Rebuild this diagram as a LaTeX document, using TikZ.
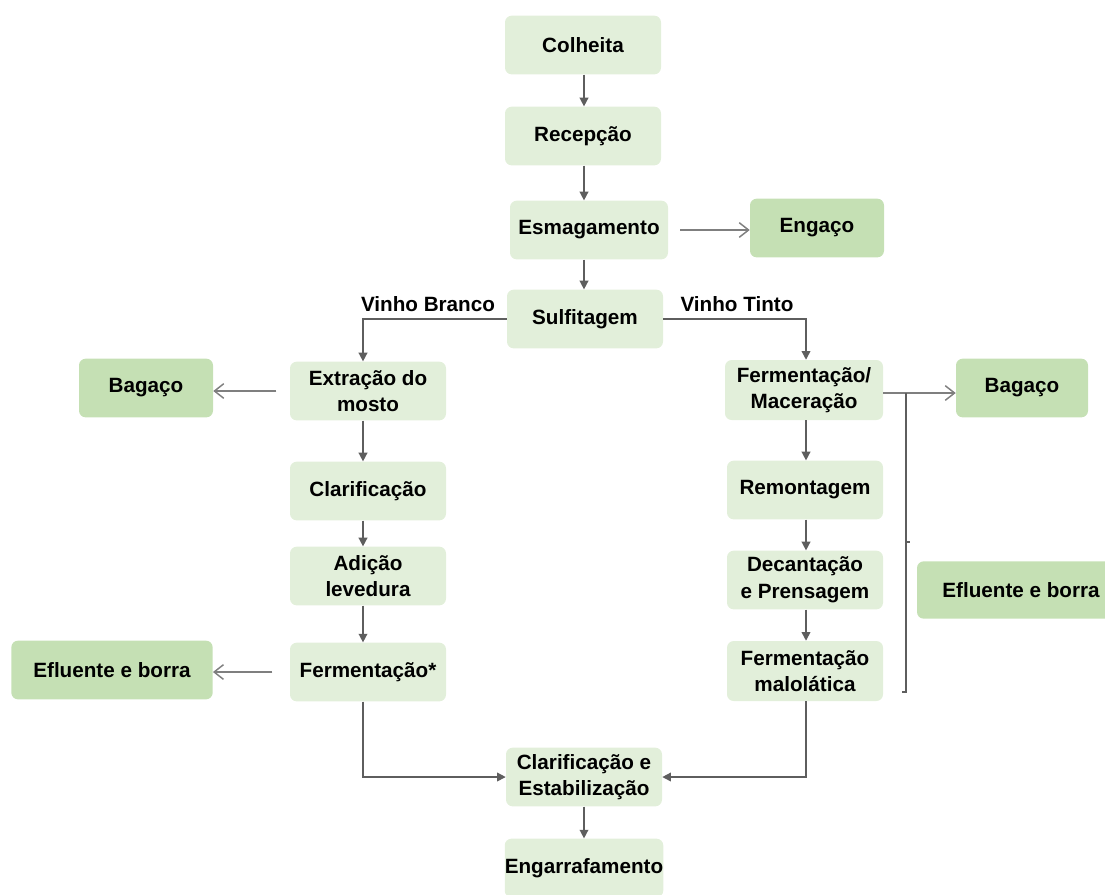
\documentclass[tikz,border=0pt]{standalone}
\usepackage{fontspec}
\setmainfont{Liberation Sans}
\usetikzlibrary{arrows.meta}
\definecolor{boxlight}{HTML}{E2EFDA}
\definecolor{boxdark}{HTML}{C5E0B4}
\definecolor{linegray}{HTML}{5E5E5E}
\definecolor{wastegray}{HTML}{7F7F7F}
\begin{document}
\begin{tikzpicture}[x=0.75pt,y=-0.75pt,
  stepbox/.style={fill=boxlight, rounded corners=5pt, inner sep=0pt,
    minimum width=117pt, minimum height=44pt, align=center,
    font=\bfseries\fontsize{15.5}{20}\selectfont},
  wastebox/.style={stepbox, fill=boxdark},
  flow/.style={draw=linegray, line width=1.1pt, -{Triangle[length=6.5pt,width=6.5pt]}},
  waste/.style={draw=wastegray, line width=1.1pt, -{Straight Barb[length=7pt,width=11pt]}},
  branch/.style={font=\bfseries\fontsize{15.5}{18}\selectfont, inner sep=0pt}]
\useasboundingbox (0,0) rectangle (1105,894);

% main line
\node[stepbox] (colheita) at (583,45)  {Colheita};
\node[stepbox] (recepcao) at (583,136) {Recepção};
\node[stepbox, minimum width=118.5pt] (esmag) at (589,230) {Esmagamento};
\node[wastebox, minimum width=100.5pt] (engaco) at (817,228) {Engaço};
\node[stepbox] (sulfit) at (585,319) {Sulfitagem};

% white wine
\node[stepbox] (extracao) at (368,391) {Extração do\\mosto};
\node[wastebox, minimum width=100.5pt] (bagacoL) at (146,388) {Bagaço};
\node[stepbox] (clarif) at (368,491) {Clarificação};
\node[stepbox] (adicao) at (368,576) {Adição\\levedura};
\node[stepbox] (ferm) at (368,672) {Fermentação*};
\node[wastebox, minimum width=151pt] (efluL) at (112,670) {Efluente e borra};

% red wine
\node[stepbox, minimum width=118.5pt, minimum height=45pt] (fermmac) at (804,390) {Fermentação/\\Maceração};
\node[wastebox, minimum width=99pt] (bagacoR) at (1022,388) {Bagaço};
\node[stepbox] (remont) at (805,490) {Remontagem};
\node[stepbox] (decant) at (805,580) {Decantação\\e Prensagem};
\node[stepbox, minimum height=45pt] (malo) at (805,671) {Fermentação\\malolática};
\node[wastebox, minimum width=156pt, minimum height=43pt] (efluR) at (1021,590) {Efluente e borra};

% final steps
\node[stepbox] (clarest) at (584,777) {Clarificação e\\Estabilização};
\node[stepbox] (engarraf) at (584,868) {Engarrafamento};

% branch labels
\node[branch] (lblbranco) at (428,304) {Vinho Branco};
\node[branch] (lbltinto) at (737,304) {Vinho Tinto};

% column guides
\coordinate (cx) at (584,0);
\coordinate (lx) at (363,0);
\coordinate (rx) at (806,0);
\coordinate (brtop) at (906,393);
\coordinate (brbot) at (906,692);
\coordinate (brmid) at (906,542);

% central flow
\draw[flow] (colheita.south -| cx) -- (recepcao.north -| cx);
\draw[flow] (recepcao.south -| cx) -- (esmag.north -| cx);
\draw[flow] (esmag.south -| cx) -- (sulfit.north -| cx);
\draw[waste, shorten <=9pt] (esmag.east) -- (esmag.east -| engaco.west);

% split into the two wines
\draw[flow] (sulfit.west) -- (sulfit.west -| lx) -- (extracao.north -| lx);
\draw[flow] (sulfit.east) -- (sulfit.east -| rx) -- (fermmac.north -| rx);

% white wine column
\draw[flow] (extracao.south -| lx) -- (clarif.north -| lx);
\draw[flow] (clarif.south -| lx) -- (adicao.north -| lx);
\draw[flow] (adicao.south -| lx) -- (ferm.north -| lx);
\draw[waste, shorten <=10pt] (extracao.west) -- (extracao.west -| bagacoL.east);
\draw[waste, shorten <=13pt] (ferm.west) -- (ferm.west -| efluL.east);

% red wine column
\draw[flow] (fermmac.south -| rx) -- (remont.north -| rx);
\draw[flow] (remont.south -| rx) -- (decant.north -| rx);
\draw[flow] (decant.south -| rx) -- (malo.north -| rx);
\draw[waste] (fermmac.east |- brtop) -- (bagacoR.west |- brtop);
\draw[draw=linegray, line width=1pt] (brtop) -- (brbot) -- ++(-4,0);
\draw[draw=linegray, line width=1pt] (brmid) -- ++(4,0);

% merge and bottling
\draw[flow] (ferm.south -| lx) |- (clarest.west);
\draw[flow] (malo.south -| rx) |- (clarest.east);
\draw[flow] (clarest.south -| cx) -- (engarraf.north -| cx);
\end{tikzpicture}
\end{document}
